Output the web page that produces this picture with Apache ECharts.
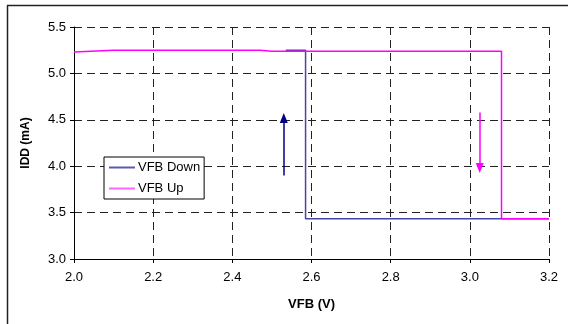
<!DOCTYPE html>
<html>
<head>
<meta charset="utf-8">
<script src="https://cdn.jsdelivr.net/npm/echarts@6/dist/echarts.min.js"></script>
<style>
  html, body { margin: 0; padding: 0; background: #fff; }
  #chart { width: 568px; height: 324px; }
</style>
</head>
<body>
<div id="chart"></div>
<script>
// Supply current vs. feedback voltage: hysteresis sweep
const vfbDownX = [3.2, 2.585, 2.585, 2.535];
const vfbDownY = [3.435, 3.435, 5.25, 5.25];
const vfbUpX = [2.0, 2.1, 2.47, 2.5, 3.08, 3.08, 3.2];
const vfbUpY = [5.23, 5.25, 5.25, 5.24, 5.24, 3.435, 3.435];

// Direction arrows [x, yStart, yEnd]
const arrowUp = [2.53, 3.9, 4.52];
const arrowDown = [3.025, 4.58, 3.98];

const font = 'Liberation Sans, Arial, sans-serif';
const navy = '#000080';
const magenta = '#ff00ff';

function pairs(xs, ys) { return xs.map((x, i) => [x, ys[i]]); }

const chart = echarts.init(document.getElementById('chart'));
chart.setOption({
  animation: false,
  backgroundColor: '#fff',
  grid: { left: 74, right: 19, top: 27, bottom: 65 },
  graphic: [
    { type: 'line', shape: { x1: 7.5, y1: 5.5, x2: 7.5, y2: 324 }, style: { stroke: '#222', lineWidth: 1.5 } },
    { type: 'line', shape: { x1: 7, y1: 5.5, x2: 568, y2: 5.5 }, style: { stroke: '#222', lineWidth: 1.5 } }
  ],
  legend: {
    left: 104, top: 157,
    orient: 'vertical',
    backgroundColor: '#fff',
    borderColor: '#000', borderWidth: 1, borderRadius: 0,
    padding: [4, 4, 4, 5],
    itemGap: 8,
    itemWidth: 26, itemHeight: 2,
    icon: 'rect',
    textStyle: { fontFamily: font, fontSize: 13, color: '#000', padding: [0, 0, 0, -2] },
    data: ['VFB Down', 'VFB Up']
  },
  xAxis: {
    type: 'value', min: 2.0, max: 3.2, interval: 0.2,
    name: 'VFB (V)', nameLocation: 'middle', nameGap: 39,
    nameTextStyle: { fontFamily: font, fontSize: 13, fontWeight: 'bold', color: '#000' },
    axisLine: { show: true, onZero: false, lineStyle: { color: '#000', width: 1 } },
    axisTick: { show: true, length: 4, lineStyle: { color: '#000' } },
    axisLabel: { fontFamily: font, fontSize: 13, color: '#000', margin: 12,
      formatter: v => v.toFixed(1) },
    splitLine: { show: true, lineStyle: { color: '#222', type: [8, 5], width: 1 } }
  },
  yAxis: {
    type: 'value', min: 3.0, max: 5.5, interval: 0.5,
    name: 'IDD (mA)', nameLocation: 'middle', nameGap: 42, nameRotate: 90,
    nameTextStyle: { fontFamily: font, fontSize: 12, fontWeight: 'bold', color: '#000' },
    axisLine: { show: true, onZero: false, lineStyle: { color: '#000', width: 1 } },
    axisTick: { show: true, length: 4, lineStyle: { color: '#000' } },
    axisLabel: { fontFamily: font, fontSize: 13, color: '#000', margin: 8,
      formatter: v => v.toFixed(1) },
    splitLine: { show: true, lineStyle: { color: '#222', type: [8, 5], width: 1 } }
  },
  series: [
    {
      name: 'VFB Down', type: 'line', z: 2,
      data: pairs(vfbDownX, vfbDownY),
      showSymbol: false, symbol: 'none',
      color: '#5a5ab0',
      lineStyle: { color: '#4646a6', width: 1.5 },
      markLine: {
        silent: true, symbol: ['none', 'triangle'], symbolSize: [8, 10],
        label: { show: false },
        lineStyle: { color: navy, width: 1.5, type: 'solid' },
        data: [[{ coord: [arrowUp[0], arrowUp[1]] }, { coord: [arrowUp[0], arrowUp[2]] }]]
      }
    },
    {
      name: 'VFB Up', type: 'line', z: 3,
      data: pairs(vfbUpX, vfbUpY),
      showSymbol: false, symbol: 'none',
      color: '#ff66ff',
      lineStyle: { color: magenta, width: 1.5 },
      markLine: {
        silent: true, symbol: ['none', 'triangle'], symbolSize: [8, 10],
        label: { show: false },
        lineStyle: { color: magenta, width: 1.5, type: 'solid' },
        data: [[{ coord: [arrowDown[0], arrowDown[1]] }, { coord: [arrowDown[0], arrowDown[2]] }]]
      }
    }
  ]
});
</script>
</body>
</html>
